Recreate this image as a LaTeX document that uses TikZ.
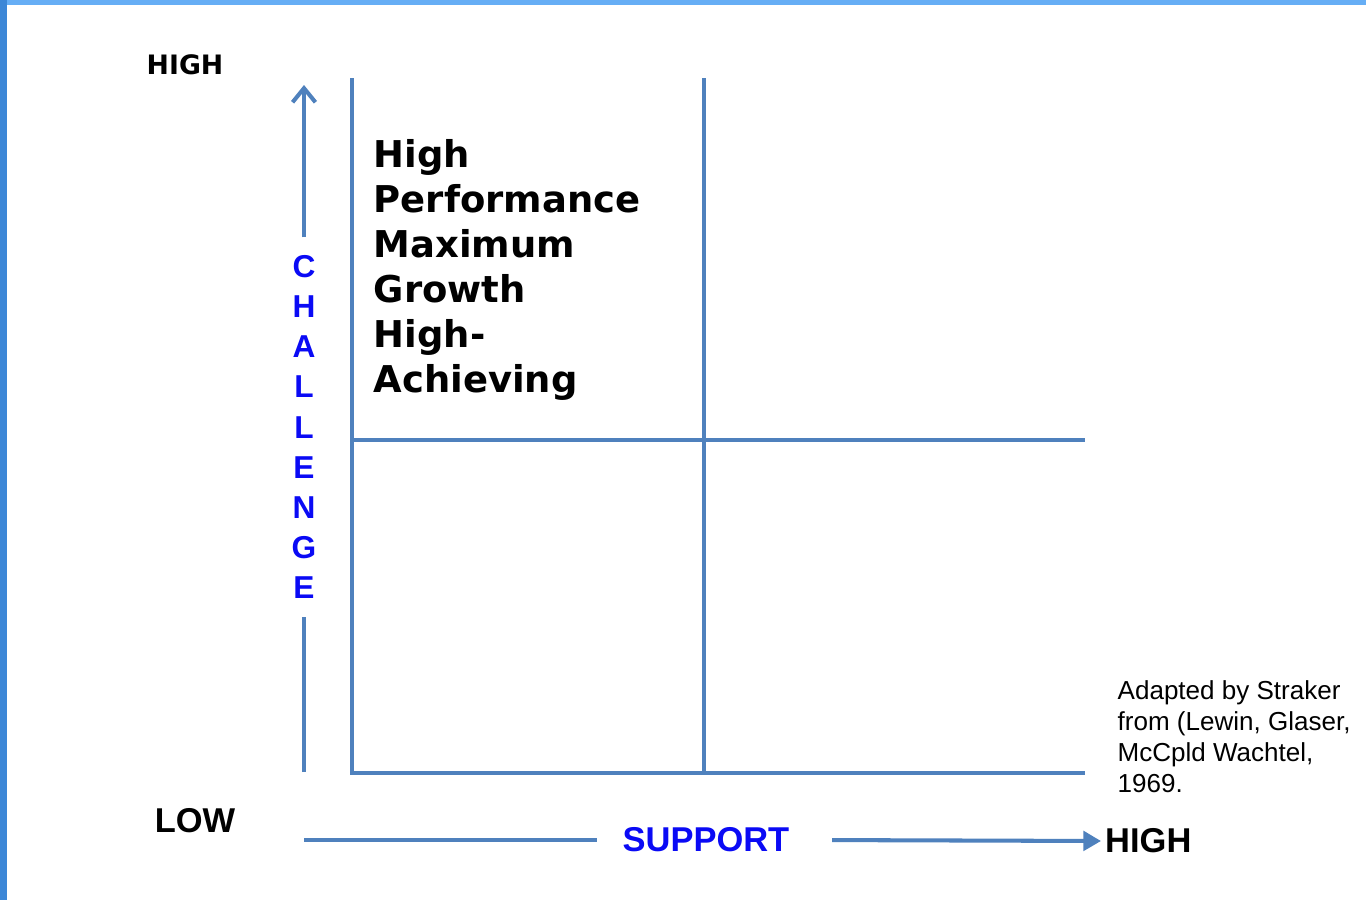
\documentclass[tikz,border=0pt]{standalone}
\usepackage{fontspec}
\setmainfont{Liberation Sans}
\newfontfamily\dejavu{DejaVu Sans}
\usetikzlibrary{arrows.meta,positioning,calc}
\definecolor{gridblue}{RGB}{79,129,189}
\definecolor{labelblue}{RGB}{10,10,245}
\definecolor{frametop}{RGB}{102,174,245}
\definecolor{frameleft}{RGB}{60,135,215}
\tikzset{
    every node/.style={color=black, inner sep=0pt}
}

\begin{document}
\begin{tikzpicture}[
        x=0.01cm, y=-0.01cm,
        gridline/.style={draw=gridblue, line width=1.15pt},
        axis/.style={draw=gridblue, line width=1.15pt},
        axislabel/.style={font=\bfseries\fontsize{9.8}{11}\selectfont},
        bluelabel/.style={axislabel, color=labelblue},
        quadtext/.style={align=left, anchor=north west, font=\dejavu\bfseries\fontsize{10.5}{12.8}\selectfont},
        source/.style={align=left, anchor=north west, font=\fontsize{7.4}{8.8}\selectfont}
    ]

    % Frame
    \useasboundingbox (0,0) rectangle (1366,900);
    \fill[white] (0,0) rectangle (1366,900);
    \fill[frametop] (0,0) rectangle (1366,5);
    \fill[frameleft] (0,0) rectangle (7,900);

    % Grid corners
    \coordinate (tl) at (352,78);
    \coordinate (tm) at (704,78);
    \coordinate (ml) at (352,440);
    \coordinate (mr) at (1085,440);
    \coordinate (bl) at (352,773);
    \coordinate (bm) at (704,773);
    \coordinate (br) at (1085,773);

    % Grid lines
    \draw[gridline] (tl) -- (bl) -- (br);
    \draw[gridline] (tm) -- (bm);
    \draw[gridline] (ml) -- (mr);

    % Labels
    \node[font=\dejavu\bfseries\fontsize{7.6}{9}\selectfont] (high top) at (185,65) {HIGH};
    \node[axislabel] (low) at (195,821) {LOW};
    \node[quadtext] (quadrant) at (373,139) {High\\Performance\\Maximum\\Growth\\High-\\Achieving};

    % Challenge axis
    \node[bluelabel, font=\bfseries\fontsize{9}{11.4}\selectfont, align=center, inner ysep=5pt] (challenge) at (304,427) {C\\H\\A\\L\\L\\E\\N\\G\\E};
    \coordinate (c bottom) at (304,772);
    \coordinate (c top) at (304,85);
    \draw[axis] (c bottom) -- (challenge.south);
    \draw[axis, -{Straight Barb[length=4pt,width=6.5pt]}] (challenge.north) -- (c top);

    % Support axis
    \node[bluelabel, inner xsep=7pt] (support) at (706,840) {SUPPORT};
    \coordinate (s left) at (304,840);
    \node[axislabel, anchor=west, inner xsep=1pt] (high right) at (1101,841) {HIGH};
    \draw[axis] (s left) -- (support.west);
    \draw[axis, -{Triangle[length=5pt,width=5.5pt]}, shorten <=5pt] (support.east) -- (high right.west);

    % Source
    \node[source] (source) at (1117,680) {Adapted by Straker\\from (Lewin, Glaser,\\McCpld Wachtel,\\1969.};

\end{tikzpicture}
\end{document}
